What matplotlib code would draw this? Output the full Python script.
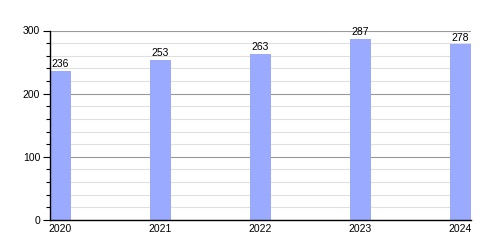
import numpy as np
import matplotlib.pyplot as plt
from matplotlib.ticker import MultipleLocator

years = ['2020', '2021', '2022', '2023', '2024']
counts = [236, 253, 263, 287, 278]

plt.rcParams['font.family'] = ['Liberation Sans', 'DejaVu Sans']

fig = plt.figure(figsize=(5, 2.5), dpi=100)
ax = fig.add_axes([0.1, 0.12, 0.842, 0.758])

xs = np.arange(len(years))
w = 0.21
bars = ax.bar(xs, counts, width=w, color='#99aaff', zorder=3)
for x, v in zip(xs, counts):
    ax.text(x, v + 3, str(v), ha='center', va='bottom', fontsize=7.5, zorder=4)

ax.set_xlim(xs[0] - w / 2, xs[-1] + w / 2)
ax.set_ylim(0, 300)
ax.set_xticks(xs)
ax.set_xticklabels(years, fontsize=7.5)
ax.tick_params(axis='x', length=0, pad=3)
ax.yaxis.set_major_locator(MultipleLocator(100))
ax.yaxis.set_minor_locator(MultipleLocator(20))
ax.tick_params(axis='y', which='major', length=5, width=0.8, labelsize=7.5, pad=2)
ax.tick_params(axis='y', which='minor', length=3, width=0.8)
ax.grid(axis='y', which='major', color='#999999', linewidth=0.8, zorder=1)
ax.grid(axis='y', which='minor', color='#e0e0e0', linewidth=0.8, zorder=1)
ax.spines['top'].set_visible(False)
ax.spines['right'].set_visible(False)
ax.spines['left'].set_linewidth(1)
ax.spines['bottom'].set_linewidth(1)
ax.spines['left'].set_zorder(5)
ax.spines['bottom'].set_zorder(5)

fig.savefig('out.png', dpi=100)
